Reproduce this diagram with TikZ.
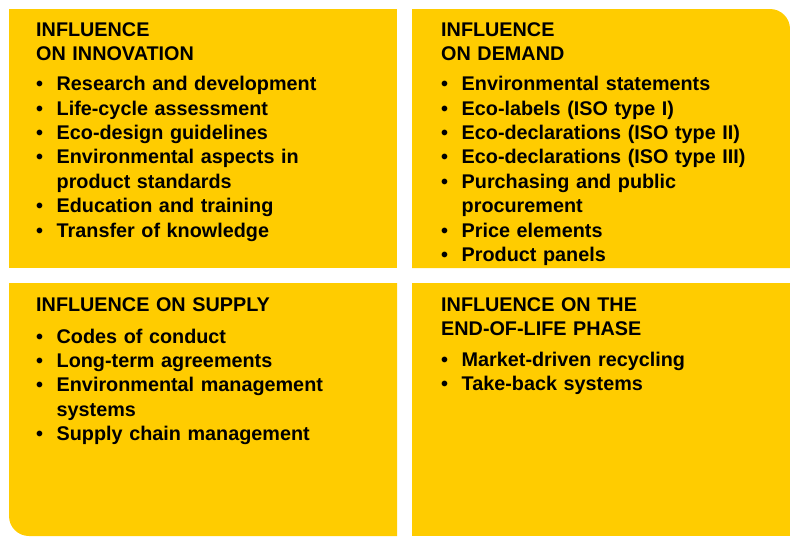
\documentclass[tikz,border=0pt]{standalone}
\usepackage{fontspec}
\setmainfont{Liberation Sans}
\definecolor{ecoyellow}{RGB}{255,204,0}
% bullet hung in the left indent of the list
\newcommand{\bul}{\llap{\makebox[20.5pt][l]{\textbullet}}}
\newcommand{\hanglist}[1]{\hangindent=20.5pt\hangafter=0 #1\par}

\begin{document}
\begin{tikzpicture}[x=1pt, y=-1pt,
    txt/.style={anchor=base west, inner sep=0pt, text width=350pt, align=left,
        font=\fontsize{19.8}{24.4}\selectfont\bfseries}]
    \useasboundingbox (0,0) rectangle (790,536);

    % the four panels
    \fill[ecoyellow] (9,9) rectangle (397,268);
    \fill[ecoyellow] (412,268) -- (412,9) [rounded corners=20pt] -- (790,9) [sharp corners] -- (790,268) -- cycle;
    \fill[ecoyellow] (397,283) -- (9,283) [rounded corners=20pt] -- (9,536) [sharp corners] -- (397,536) -- cycle;
    \fill[ecoyellow] (412,283) rectangle (790,536);

    % innovation
    \node[txt] (innovhead) at (36,36) {INFLUENCE\\ON INNOVATION};
    \node[txt] (innovlist) at (36,90.7) {\hanglist{\bul Research and development\newline
        \bul Life-cycle assessment\newline
        \bul Eco-design guidelines\newline
        \bul Environmental aspects in\newline product standards\newline
        \bul Education and training\newline
        \bul Transfer of knowledge}};

    % demand
    \node[txt] (demandhead) at (441,36) {INFLUENCE\\ON DEMAND};
    \node[txt] (demandlist) at (441,90.7) {\hanglist{\bul Environmental statements\newline
        \bul Eco-labels (ISO type I)\newline
        \bul Eco-declarations (ISO type II)\newline
        \bul Eco-declarations (ISO type III)\newline
        \bul Purchasing and public\newline procurement\newline
        \bul Price elements\newline
        \bul Product panels}};

    % supply
    \node[txt] (supplyhead) at (36,311) {INFLUENCE ON SUPPLY};
    \node[txt] (supplylist) at (36,343) {\hanglist{\bul Codes of conduct\newline
        \bul Long-term agreements\newline
        \bul Environmental management\newline systems\newline
        \bul Supply chain management}};

    % end of life
    \node[txt] (eolhead) at (441,311) {INFLUENCE ON THE\\END-OF-LIFE PHASE};
    \node[txt] (eollist) at (441,366) {\hanglist{\bul Market-driven recycling\newline
        \bul Take-back systems}};
\end{tikzpicture}
\end{document}
